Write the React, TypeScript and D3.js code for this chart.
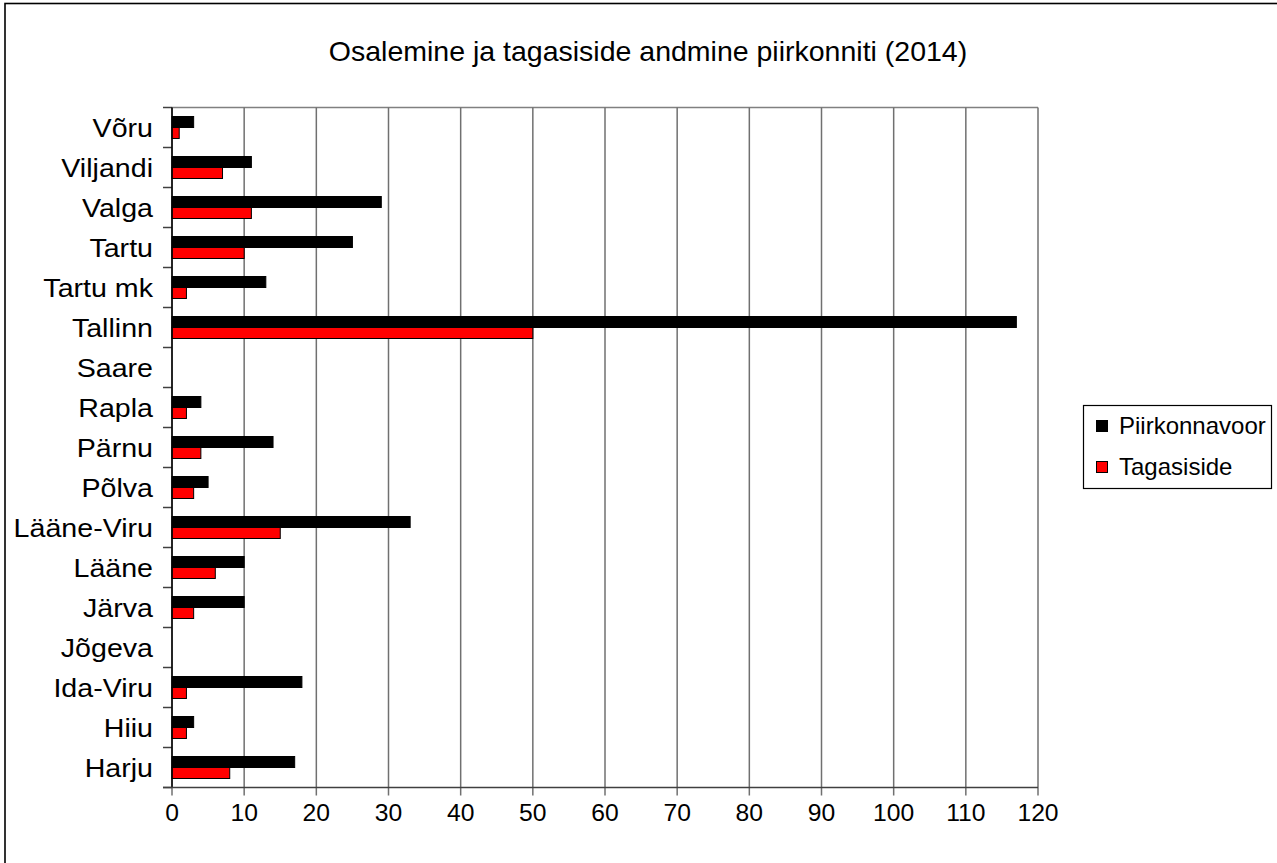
import React from "react";
import * as d3 from "d3";

const categories = ["Võru", "Viljandi", "Valga", "Tartu", "Tartu mk", "Tallinn", "Saare", "Rapla", "Pärnu", "Põlva", "Lääne-Viru", "Lääne", "Järva", "Jõgeva", "Ida-Viru", "Hiiu", "Harju"];
const piirkonnavoor = [3, 11, 29, 25, 13, 117, 0, 4, 14, 5, 33, 10, 10, 0, 18, 3, 17];
const tagasiside = [1, 7, 11, 10, 2, 50, 0, 2, 4, 3, 15, 6, 3, 0, 2, 2, 8];
const seriesNames = ["Piirkonnavoor", "Tagasiside"];
const seriesColors = ["#000000", "#ff0000"];
const xTicks = [0, 10, 20, 30, 40, 50, 60, 70, 80, 90, 100, 110, 120];
const title = "Osalemine ja tagasiside andmine piirkonniti (2014)";

const W = 1277, H = 863;
const left = 172, right = 1038, top = 107.5, bottom = 787.5;
const FONT = "Liberation Sans, Arial, sans-serif";

export default function App() {
  const x = d3.scaleLinear().domain([0, 120]).range([left, right]);
  const y = d3.scaleBand<string>().domain(categories).range([top, bottom]).paddingInner(0.45).paddingOuter(0.225);
  const step = y.step();
  const sub = d3.scaleBand<number>().domain([0, 1]).range([0, y.bandwidth()]);
  const series = [piirkonnavoor, tagasiside];

  return (
    <svg width={W} height={H} style={{ position: "absolute", left: 0, top: 0 }} fontFamily={FONT}>
      <rect x={0} y={0} width={W} height={H} fill="#fff" />
      <rect x={5} y={3.5} width={1400} height={1000} fill="none" stroke="#000" strokeWidth={1.6} />
      <text x={648} y={61} textAnchor="middle" fontSize={28.5}>{title}</text>
      <line x1={left} x2={right} y1={top} y2={top} stroke="#808080" strokeWidth={1.5} />
      {xTicks.map((t) => (
        <line key={"g" + t} x1={x(t)} x2={x(t)} y1={top} y2={bottom + 8} stroke="#707070" strokeWidth={1.5} />
      ))}
      {d3.range(categories.length + 1).map((i) => (
        <line key={"yt" + i} x1={left - 9} x2={left} y1={top + i * step} y2={top + i * step} stroke="#404040" strokeWidth={1.5} />
      ))}
      {categories.map((c, i) => (
        <g key={c}>
          {series.map((s, k) =>
            s[i] > 0 ? (
              <rect key={k} x={x(0)} y={(y(c) as number) + (sub(k) as number)} width={x(s[i]) - x(0)} height={sub.bandwidth()}
                fill={seriesColors[k]} stroke="#000" strokeWidth={1} />
            ) : null
          )}
        </g>
      ))}
      <line x1={left} x2={left} y1={top} y2={bottom} stroke="#000" strokeWidth={1.5} />
      <line x1={left - 9} x2={right} y1={bottom} y2={bottom} stroke="#404040" strokeWidth={1.5} />
      {categories.map((c) => (
        <text key={"l" + c} transform={`translate(153,${(y(c) as number) + y.bandwidth() / 2 + 9}) scale(1.1,1)`} textAnchor="end" fontSize={26}>{c}</text>
      ))}
      {xTicks.map((t) => (
        <text key={"xl" + t} transform={`translate(${x(t)},821) scale(1.05,1)`} textAnchor="middle" fontSize={23.5}>{t}</text>
      ))}
      <rect x={1083.5} y={405.5} width={188} height={83} fill="#fff" stroke="#000" strokeWidth={1.2} />
      {seriesNames.map((n, k) => (
        <g key={n}>
          <rect x={1096.5} y={420.5 + k * 41} width={11} height={11} fill={seriesColors[k]} stroke="#000" strokeWidth={1} />
          <text x={1119} y={434 + k * 41} fontSize={24}>{n}</text>
        </g>
      ))}
    </svg>
  );
}
